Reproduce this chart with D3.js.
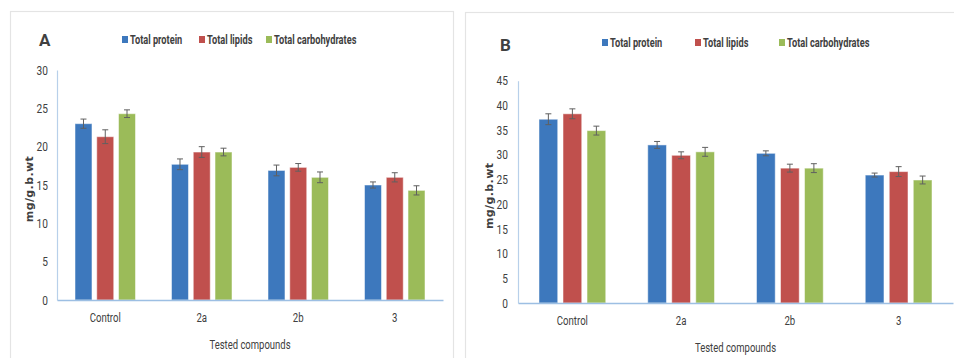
<!DOCTYPE html>
<html>
<head>
<meta charset="utf-8">
<script src="https://cdn.jsdelivr.net/npm/d3@7"></script>
<style>
  body { margin: 0; background: #fff; }
  text { font-family: "Roboto", sans-serif; fill: #404040; }
</style>
</head>
<body>
<div id="chart"></div>
<script>
// data
var compounds = ["Control", "2a", "2b", "3"];
var seriesNames = ["Total protein", "Total lipids", "Total carbohydrates"];
var seriesColors = ["#3d78bd", "#c0504d", "#9bbb59"];

var proteinA = [23.0, 17.7, 16.9, 15.0];
var lipidsA = [21.3, 19.3, 17.3, 16.0];
var carbsA = [24.3, 19.3, 16.0, 14.3];
var proteinErrA = [0.6, 0.7, 0.7, 0.4];
var lipidsErrA = [0.9, 0.7, 0.5, 0.6];
var carbsErrA = [0.5, 0.5, 0.7, 0.6];
var ticksA = [0, 5, 10, 15, 20, 25, 30];

var proteinB = [37.2, 32.0, 30.3, 25.9];
var lipidsB = [38.3, 29.9, 27.3, 26.6];
var carbsB = [34.9, 30.6, 27.3, 24.9];
var proteinErrB = [1.1, 0.7, 0.5, 0.4];
var lipidsErrB = [1.0, 0.7, 0.8, 1.0];
var carbsErrB = [0.9, 0.9, 0.9, 0.8];
var ticksB = [0, 5, 10, 15, 20, 25, 30, 35, 40, 45];

var svg = d3.select("#chart").append("svg").attr("width", 954).attr("height", 358);

// squeeze text horizontally (the original uses a narrow font)
function squeeze(sel, k) {
  sel.each(function () {
    var t = d3.select(this);
    var x = +t.attr("x") || 0;
    t.attr("x", x / k).attr("transform", (t.attr("transform") || "") + " scale(" + k + ",1)");
  });
}

function Panel(opt) {
  var g = svg.append("g");

  // frame
  g.append("rect")
    .attr("x", opt.box[0]).attr("y", opt.box[1])
    .attr("width", opt.box[2]).attr("height", opt.box[3])
    .attr("fill", "#fff").attr("stroke", "#e4e4e4").attr("stroke-width", 1.2);

  var x0 = d3.scaleBand().domain(compounds).range([opt.left, opt.right]);
  var x1 = d3.scaleBand().domain(seriesNames)
    .range([opt.inner, x0.bandwidth() - opt.inner]).paddingInner(opt.gap);
  var y = d3.scaleLinear().domain([0, opt.max]).range([opt.bottom, opt.top]);

  // bars
  var rows = [];
  compounds.forEach(function (c, i) {
    seriesNames.forEach(function (s, j) {
      rows.push({ c: c, s: s, v: opt.values[j][i], e: opt.errors[j][i], color: seriesColors[j] });
    });
  });

  var bars = g.append("g").selectAll("g").data(rows).enter().append("g")
    .attr("transform", function (d) { return "translate(" + (x0(d.c) + x1(d.s)) + ",0)"; });

  bars.append("rect")
    .attr("x", 0).attr("width", x1.bandwidth())
    .attr("y", function (d) { return y(d.v); })
    .attr("height", function (d) { return y(0) - y(d.v); })
    .attr("fill", function (d) { return d.color; })
    .attr("stroke", "#ffffff").attr("stroke-opacity", 0.5).attr("stroke-width", 1);

  var w = x1.bandwidth();
  bars.append("line")
    .attr("x1", w / 2).attr("x2", w / 2)
    .attr("y1", function (d) { return y(d.v + d.e); })
    .attr("y2", function (d) { return y(d.v - d.e); })
    .attr("stroke", "#606060").attr("stroke-width", 1);
  [1, -1].forEach(function (k) {
    bars.append("line")
      .attr("x1", w / 2 - 3).attr("x2", w / 2 + 3)
      .attr("y1", function (d) { return y(d.v + k * d.e); })
      .attr("y2", function (d) { return y(d.v + k * d.e); })
      .attr("stroke", "#606060").attr("stroke-width", 1);
  });

  // axes
  var yAxis = g.append("g").attr("transform", "translate(" + opt.left + ",0)")
    .call(d3.axisLeft(y).tickValues(opt.ticks).tickSize(0).tickPadding(opt.tickPad));
  yAxis.select(".domain").attr("stroke", "#b8d0ea").attr("stroke-width", 1.2);
  yAxis.selectAll("text").style("font-size", "13px").style("font-family", "Roboto").attr("fill", "#404040");
  squeeze(yAxis.selectAll("text"), 0.78);

  var xAxis = g.append("g").attr("transform", "translate(0," + opt.bottom + ")")
    .call(d3.axisBottom(x0).tickSize(0).tickPadding(13));
  xAxis.select(".domain").attr("stroke", "#9dbfe3").attr("stroke-width", 1.5);
  xAxis.selectAll("text").style("font-size", "13px").style("font-family", "Roboto").attr("fill", "#404040");
  squeeze(xAxis.selectAll("text"), 0.74);

  // axis titles
  var xt = g.append("text")
    .attr("x", (opt.left + opt.right) / 2).attr("y", opt.bottom + 49)
    .attr("text-anchor", "middle").style("font-size", "13px")
    .text("Tested compounds");
  squeeze(xt, 0.73);

  g.append("text")
    .attr("transform", "translate(" + opt.yTitleX + "," + ((opt.top + opt.bottom) / 2 + 4) + ") rotate(-90)")
    .attr("text-anchor", "middle").style("font-weight", "bold")
    .style("font-family", "'DejaVu Sans', sans-serif").style("font-size", "11px")
    .style("letter-spacing", "0.4px")
    .text("mg/g.b.wt");

  // panel letter
  g.append("text")
    .attr("x", opt.letter[0]).attr("y", opt.letter[1])
    .style("font-size", "17px").style("font-weight", "bold").attr("fill", "#404040")
    .text(opt.name);

  // legend
  var lg = g.append("g").selectAll("g").data(seriesNames).enter().append("g")
    .attr("transform", function (d, i) { return "translate(" + opt.legendX[i] + "," + opt.legendY + ")"; });
  lg.append("rect").attr("x", 0).attr("y", -4).attr("width", 6).attr("height", 7)
    .attr("fill", function (d, i) { return seriesColors[i]; });
  var lt = lg.append("text").attr("x", 8).attr("y", 4)
    .style("font-size", "13px").style("font-weight", "bold").attr("fill", "#404040")
    .text(function (d) { return d; });
  squeeze(lt, 0.71);
}

Panel({
  name: "A",
  box: [10.5, 11.5, 443, 360],
  left: 57, right: 443, top: 70, bottom: 300, max: 30,
  inner: 18, gap: 0.22, tickPad: 9,
  values: [proteinA, lipidsA, carbsA],
  errors: [proteinErrA, lipidsErrA, carbsErrA],
  ticks: ticksA,
  yTitleX: 33,
  letter: [39, 46],
  legendX: [122, 199, 266], legendY: 40
});

Panel({
  name: "B",
  box: [465.5, 12.5, 500, 360],
  left: 518, right: 953, top: 80.7, bottom: 303, max: 45,
  inner: 21, gap: 0.22, tickPad: 10,
  values: [proteinB, lipidsB, carbsB],
  errors: [proteinErrB, lipidsErrB, carbsErrB],
  ticks: ticksB,
  yTitleX: 493,
  letter: [500, 51],
  legendX: [602, 695, 779], legendY: 43
});
</script>
</body>
</html>
